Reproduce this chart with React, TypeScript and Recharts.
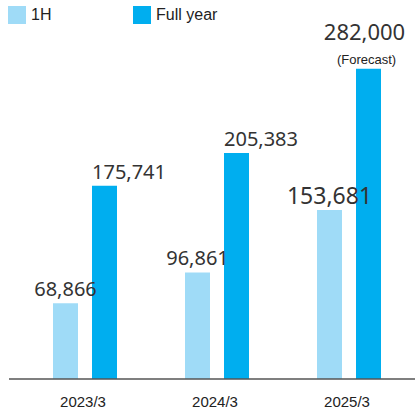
import { BarChart, Bar, XAxis, YAxis, Legend } from 'recharts'

const categories = ['2023/3', '2024/3', '2025/3']
const firstHalf = [68866, 96861, 153681]
const fullYear = [175741, 205383, 282000]
const forecast = [false, false, true]

const LIGHT = '#9fdbf7'
const DARK = '#00aeef'

const data = categories.map((name, i) => ({
  name,
  firstHalf: firstHalf[i],
  fullYear: fullYear[i],
  forecast: forecast[i],
}))

const fmt = (v: number) => v.toLocaleString('en-US')

function HalfLabel(props: any) {
  const { x, y, width, value, index } = props
  const big = index === categories.length - 1
  return (
    <text
      x={x + width / 2}
      y={y - (big ? 6 : 7)}
      textAnchor="middle"
      fill="#333"
      fontFamily="'Noto Sans', sans-serif"
      fontSize={big ? 23 : 20}
    >
      {fmt(value)}
    </text>
  )
}

function YearLabel(props: any) {
  const { x, y, width, value, index } = props
  if (forecast[index]) {
    return (
      <g>
        <text
          x={x + width / 2 - 4}
          y={y - 29}
          textAnchor="middle"
          fill="#333"
          fontFamily="'Noto Sans', sans-serif"
          fontSize={22}
        >
          {fmt(value)}
        </text>
        <text
          x={x + width / 2 - 2}
          y={y - 5}
          textAnchor="middle"
          fill="#222"
          fontFamily="'Liberation Sans', Arial, sans-serif"
          fontSize={13}
        >
          (Forecast)
        </text>
      </g>
    )
  }
  return (
    <text
      x={x}
      y={y - 7}
      textAnchor="start"
      fill="#333"
      fontFamily="'Noto Sans', sans-serif"
      fontSize={20}
    >
      {fmt(value)}
    </text>
  )
}

function LegendContent() {
  const items = [
    { label: '1H', color: LIGHT, left: 8 },
    { label: 'Full year', color: DARK, left: 133 },
  ]
  return (
    <div style={{ position: 'relative', height: 28 }}>
      {items.map((it) => (
        <div
          key={it.label}
          style={{
            position: 'absolute',
            left: it.left,
            top: 6,
            display: 'flex',
            alignItems: 'center',
            fontFamily: "'Liberation Sans', Arial, sans-serif",
            fontSize: 16,
            color: '#222',
          }}
        >
          <span style={{ width: 18, height: 18, background: it.color, display: 'inline-block', marginRight: 5 }} />
          {it.label}
        </div>
      ))}
    </div>
  )
}

export default function App() {
  return (
    <div style={{ position: 'absolute', left: 0, top: 0, background: '#fff' }}>
      <BarChart
        width={415}
        height={413}
        data={data}
        margin={{ top: 21, right: 0, bottom: 4, left: 9 }}
        barGap={14}
        barSize={25}
      >
        <Legend
          verticalAlign="top"
          content={<LegendContent />}
          wrapperStyle={{ top: 0, left: 0, width: 415 }}
        />
        <YAxis hide domain={[0, 300000]} />
        <XAxis
          dataKey="name"
          height={30}
          padding={{ left: 10, right: 0 }}
          axisLine={{ stroke: '#555', strokeWidth: 1.5 }}
          tickLine={false}
          tickMargin={11}
          tick={{ fill: '#222', fontSize: 15, fontFamily: "'Liberation Sans', Arial, sans-serif", dx: -2 }}
        />
        <Bar dataKey="firstHalf" name="1H" fill={LIGHT} isAnimationActive={false} label={<HalfLabel />} />
        <Bar dataKey="fullYear" name="Full year" fill={DARK} isAnimationActive={false} label={<YearLabel />} />
      </BarChart>
    </div>
  )
}
